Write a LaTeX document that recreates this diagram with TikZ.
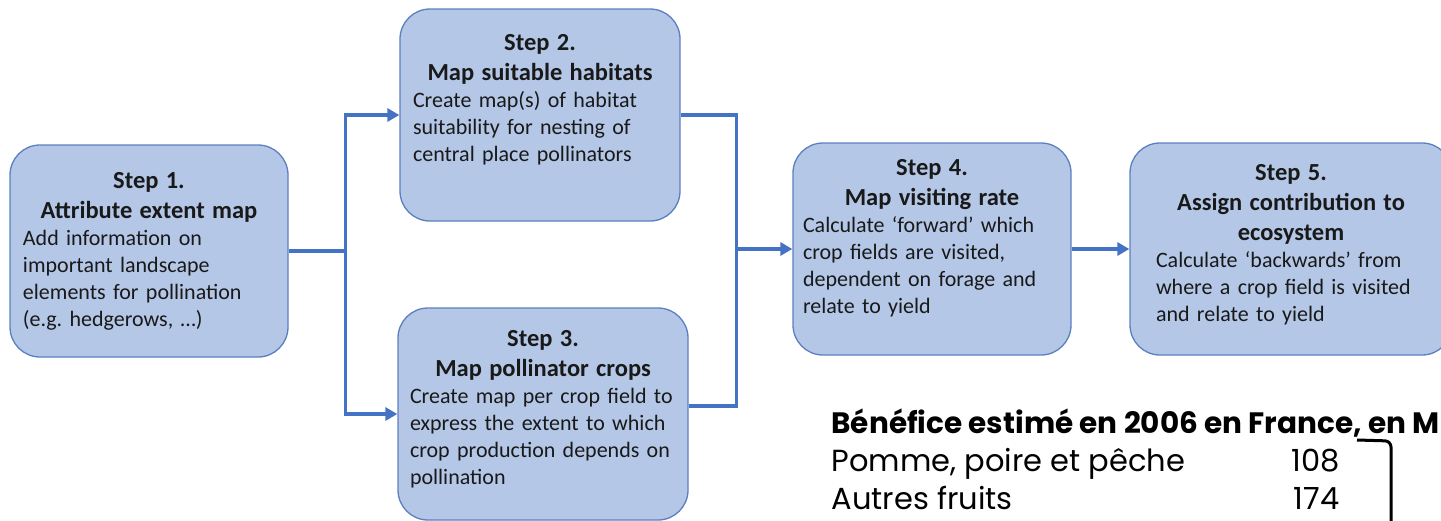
\documentclass[tikz,border=0pt]{standalone}
\usepackage{fontspec}
\setmainfont{Carlito}
\newfontfamily\notefont{Poppins}
\usetikzlibrary{arrows.meta,positioning}

\definecolor{boxfill}{HTML}{B4C7E7}
\definecolor{boxline}{HTML}{5B7FC0}
\definecolor{flow}{HTML}{4472C4}

\tikzset{
  stepbox/.style={draw=boxline, fill=boxfill, line width=1.3pt, rounded corners=30pt,
    text width=#1, inner xsep=13pt, inner ysep=0pt, minimum height=212pt,
    align=left, font=\fontsize{22}{27}\selectfont\frenchspacing, text=black!90},
  flowline/.style={draw=flow, line width=3.2pt},
  flowarrow/.style={flowline, -{Triangle[length=12pt,width=13pt]}},
  notetext/.style={font=\notefont\fontsize{30.5}{35}\selectfont, text=black}
}
\newcommand{\stephead}[2]{{\centering\fontsize{24.5}{30}\selectfont\bfseries #1\\#2\par}}

\begin{document}
\begin{tikzpicture}[x=1pt,y=-1pt]
    \useasboundingbox (0,0) rectangle (1441,520);
    \clip (0,0) rectangle (1441,520);

    % the five steps
    \node[stepbox=252pt] (s1) at (149,251)
      {\stephead{Step 1.}{Attribute extent map}Add information on\\important landscape\\elements for pollination\\(e.g. hedgerows, \dots)};
    \node[stepbox=254pt] (s2) at (540,115)
      {\stephead{Step 2.}{Map suitable habitats}Create map(s) of habitat\\suitability for nesting of\\central place pollinators\par\vspace{30pt}};
    \node[stepbox=266pt, inner xsep=12pt] (s3) at (543,414)
      {\stephead{Step 3.}{Map pollinator crops}Create map per crop field to\\express the extent to which\\crop production depends on\\pollination\par\vspace{10pt}};
    \node[stepbox=258pt, inner xsep=10pt] (s4) at (932,249)
      {\stephead{Step 4.}{Map visiting rate}Calculate ‘forward’ which\\crop fields are visited,\\dependent on forage and\\relate to yield\par\vspace{22pt}};
    \node[stepbox=270pt, inner xsep=26pt] (s5) at (1291,249)
      {\stephead{Step 5.}{Assign contribution to\\ecosystem}Calculate ‘backwards’ from\\where a crop field is visited\\and relate to yield\par\vspace{8pt}};

    % connectors
    \path (s1.east) ++(57,0) coordinate (j1);
    \path (s4.west) ++(-56,0) coordinate (j2);
    \draw[flowline] (s1.east) -- (j1);
    \draw[flowarrow] (j1) |- (s2.west);
    \draw[flowarrow] (j1) |- (s3.west);
    \draw[flowline] (s2.east) -| (j2);
    \draw[flowline] ([yshift=8pt]s3.east) -| (j2);
    \draw[flowarrow] (j2) -- (s4.west);
    \draw[flowarrow] (s4.east) -- (s5.west);

    % note at bottom right
    \node[notetext, anchor=base west, font=\notefont\bfseries\fontsize{29.5}{35}\selectfont] (title) at (828,433)
      {Bénéfice estimé en 2006 en France, en M};
    \node[notetext, anchor=base west] (r1) at (828,471) {Pomme, poire et pêche};
    \node[notetext, anchor=base east] (v1) at (1343,471) {108};
    \node[notetext, anchor=base west] (r2) at (828,509) {Autres fruits};
    \node[notetext, anchor=base east] (v2) at (1343,509) {174};
    \draw[line width=3pt, rounded corners=6pt] (1357,440) -- (1391,441) -- (1391,525);
\end{tikzpicture}
\end{document}
